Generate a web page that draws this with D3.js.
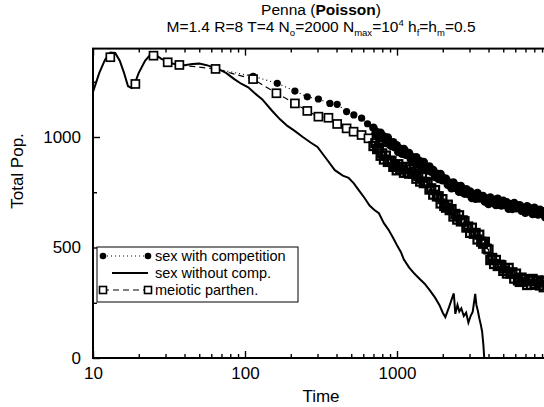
<!doctype html>
<html>
<head>
<meta charset="utf-8">
<title>Penna (Poisson)</title>
<script src="https://cdn.jsdelivr.net/npm/d3@7"></script>
<style>
    body { margin: 0; background: #fff; }
    svg { display: block; font-family: "Liberation Sans", Arial, sans-serif; }
</style>
</head>
<body>
<svg width="544" height="407"></svg>
<script>
// sex without competition (solid), also the common early curve
var solidT = [10, 11, 12, 13, 14, 15, 16, 17, 18, 19, 20, 22, 24, 26, 28, 31, 35, 40, 45, 50,
    56, 62, 68, 75, 85, 95, 105, 115, 130, 150, 170, 190, 210, 240, 270, 300, 340, 390, 440, 480,
    520, 560, 610, 660, 710, 760, 820, 880, 940, 1000, 1060, 1110, 1200, 1300, 1400, 1520, 1650, 1780, 1900, 2000,
    2080, 2200, 2300, 2364, 2420, 2500, 2570, 2650, 2750, 2850, 2950, 3050, 3150, 3270, 3330, 3400, 3480, 3560, 3630, 3700, 3750];
var solidV = [1204, 1290, 1350, 1382, 1380, 1345, 1290, 1230, 1222, 1250, 1290, 1345, 1375, 1370, 1355, 1340, 1328, 1325, 1330, 1332,
    1325, 1315, 1305, 1290, 1262, 1240, 1225, 1200, 1170, 1120, 1080, 1050, 1030, 1000, 975, 955, 905, 850, 825, 815,
    790, 760, 725, 690, 670, 655, 610, 580, 545, 510, 480, 445, 410, 382, 360, 336, 305, 273, 240, 205,
    185, 230, 270, 292, 200, 240, 210, 225, 190, 205, 160, 190, 210, 290, 240, 215, 180, 150, 120, 60, 0];

// late times, sampled densely for the two marker series
var bandT = [700, 720, 740, 760, 780, 800, 820, 845, 870, 895,
    920, 945, 970, 995, 1020, 1050, 1080, 1110, 1140, 1170,
    1200, 1235, 1270, 1305, 1340, 1380, 1420, 1460, 1500, 1545,
    1590, 1635, 1680, 1730, 1780, 1830, 1880, 1935, 1990, 2045,
    2100, 2160, 2220, 2285, 2350, 2420, 2490, 2560, 2630, 2705,
    2780, 2860, 2940, 3025, 3110, 3200, 3290, 3385, 3480, 3580,
    3680, 3785, 3890, 4000, 4110, 4230, 4350, 4475, 4600, 4730,
    4860, 5000, 5140, 5285, 5430, 5585, 5740, 5905, 6070, 6245,
    6420, 6605, 6790, 6985, 7180, 7385, 7590, 7805, 8020, 8250,
    8480, 8725, 8970, 9225, 9480, 9740, 10000];

// sex with competition (filled circles)
var compT = [64, 113, 163, 213, 257, 304, 362, 404, 466, 520, 585, 640].concat(bandT);
var compV = [1308, 1275, 1243, 1208, 1182, 1172, 1152, 1148, 1115, 1100, 1085, 1060,
    1042, 1013, 1021, 994, 1019, 994, 1002, 973, 997, 967,
    959, 976, 954, 963, 932, 947, 924, 946, 920, 928,
    927, 899, 908, 882, 908, 883, 890, 863, 887, 857,
    849, 866, 843, 851, 819, 834, 810, 832, 805, 812,
    811, 784, 793, 768, 794, 770, 778, 752, 778, 750,
    744, 763, 742, 753, 724, 742, 721, 746, 722, 732,
    733, 708, 720, 697, 726, 705, 716, 692, 720, 694,
    690, 711, 692, 704, 676, 695, 675, 701, 678, 689,
    691, 667, 679, 657, 686, 665, 676, 652, 680, 654,
    650, 671, 652, 664, 636, 655, 635];

// meiotic parthenogenesis (open squares)
var parthT = [13, 19, 25, 31, 37, 64, 113, 161, 213, 257, 304, 354, 404, 466, 518, 585, 649].concat(bandT);
var parthV = [1361, 1240, 1368, 1338, 1326, 1308, 1262, 1198, 1152, 1118, 1092, 1087, 1059, 1039, 1024, 1009, 994,
    959, 972, 945, 950, 915, 926, 898, 916, 887, 893,
    892, 865, 874, 849, 877, 854, 864, 838, 865, 838,
    834, 854, 834, 843, 811, 824, 798, 819, 791, 797,
    792, 762, 768, 739, 760, 731, 732, 699, 719, 688,
    680, 694, 669, 674, 640, 652, 626, 646, 618, 623,
    619, 590, 595, 566, 590, 562, 566, 536, 558, 526,
    517, 526, 495, 491, 443, 453, 425, 444, 416, 422,
    420, 394, 405, 382, 408, 382, 388, 359, 382, 351,
    344, 364, 345, 357, 330, 350, 331, 358, 336, 348,
    351, 328, 341, 320, 350, 330, 342];

var xMajor = [10, 100, 1000, 10000];
var xLabels = ["10", "100", "1000", ""];
var xMinor = [20, 30, 40, 50, 60, 70, 80, 90, 200, 300, 400, 500, 600, 700, 800, 900,
    2000, 3000, 4000, 5000, 6000, 7000, 8000, 9000];
var yMajor = [0, 500, 1000];
var yMinor = [250, 750, 1250];

var legendLabels = ["sex with competition", "sex without comp.", "meiotic parthen."];

var svg = d3.select("svg");
var plotLeft = 93, plotRight = 549, plotTop = 48.6, plotBottom = 358;

var x = d3.scaleLog().domain([10, 10000]).range([plotLeft, plotRight]);
var y = d3.scaleLinear().domain([0, 1400]).range([plotBottom, plotTop]);

function zip(ts, vs) {
    return ts.map(function (t, i) { return { t: t, v: vs[i] }; });
}
var solid = zip(solidT, solidV),
    comp = zip(compT, compV),
    parth = zip(parthT, parthV);

function styleAxis(g) {
    g.select(".domain").remove();
    g.selectAll(".tick line").attr("stroke-width", 1.4);
    g.attr("font-size", 17).attr("font-family", null);
}

// axes, ticks pointing inward
svg.append("g").attr("transform", "translate(0," + plotBottom + ")")
    .call(d3.axisBottom(x).tickValues(xMajor)
        .tickFormat(function (d, i) { return xLabels[i]; }).tickSize(-7).tickPadding(9))
    .call(styleAxis);
svg.append("g").attr("transform", "translate(0," + plotBottom + ")")
    .call(d3.axisBottom(x).tickValues(xMinor).tickFormat("").tickSize(-4))
    .call(styleAxis);
svg.append("g").attr("transform", "translate(0," + plotTop + ")")
    .call(d3.axisTop(x).tickValues(xMajor).tickFormat("").tickSize(-7))
    .call(styleAxis);
svg.append("g").attr("transform", "translate(0," + plotTop + ")")
    .call(d3.axisTop(x).tickValues(xMinor).tickFormat("").tickSize(-4))
    .call(styleAxis);
svg.append("g").attr("transform", "translate(" + plotLeft + ",0)")
    .call(d3.axisLeft(y).tickValues(yMajor).tickFormat(d3.format("d")).tickSize(-7).tickPadding(12))
    .call(styleAxis);
svg.append("g").attr("transform", "translate(" + plotLeft + ",0)")
    .call(d3.axisLeft(y).tickValues(yMinor).tickFormat("").tickSize(-4))
    .call(styleAxis);

svg.append("rect")
    .attr("x", plotLeft).attr("y", plotTop)
    .attr("width", plotRight - plotLeft).attr("height", plotBottom - plotTop)
    .attr("fill", "none").attr("stroke", "#000").attr("stroke-width", 2);

var line = d3.line().x(function (d) { return x(d.t); }).y(function (d) { return y(d.v); });

svg.append("path").datum(solid)
    .attr("d", line).attr("fill", "none").attr("stroke", "#000").attr("stroke-width", 2);

svg.append("path").datum(comp)
    .attr("d", line).attr("fill", "none").attr("stroke", "#000")
    .attr("stroke-width", 1.2).attr("stroke-dasharray", "1,3");

svg.append("path").datum(parth.filter(function (d) { return d.t >= 37; }))
    .attr("d", line).attr("fill", "none").attr("stroke", "#000")
    .attr("stroke-width", 1.2).attr("stroke-dasharray", "6,4");

svg.append("g").selectAll("circle")
    .data(comp.filter(function (d) { return d.t >= 100; }))
    .enter().append("circle")
    .attr("cx", function (d) { return x(d.t); })
    .attr("cy", function (d) { return y(d.v); })
    .attr("r", function (d) { return d.t < 700 ? 3.6 : 4.3; })
    .attr("fill", "#000");

svg.append("g").selectAll("rect")
    .data(parth)
    .enter().append("rect")
    .attr("x", function (d) { return x(d.t) - 4; })
    .attr("y", function (d) { return y(d.v) - 4; })
    .attr("width", 8).attr("height", 8)
    .attr("fill", function (d) { return d.t < 700 ? "#fff" : "none"; })
    .attr("stroke", "#000").attr("stroke-width", function (d) { return d.t < 700 ? 1.7 : 2.2; });

// legend
var lg = svg.append("g");
lg.append("rect").attr("x", 97).attr("y", 247).attr("width", 201).attr("height", 55)
    .attr("fill", "#fff").attr("stroke", "#000").attr("stroke-width", 1);
var rows = [256, 273, 290];
lg.append("line").attr("x1", 103).attr("x2", 148).attr("y1", rows[0]).attr("y2", rows[0])
    .attr("stroke", "#000").attr("stroke-width", 1.2).attr("stroke-dasharray", "1,3");
[103, 148].forEach(function (cx) {
    lg.append("circle").attr("cx", cx).attr("cy", rows[0]).attr("r", 3.3).attr("fill", "#000");
});
lg.append("line").attr("x1", 112).attr("x2", 148).attr("y1", rows[1]).attr("y2", rows[1])
    .attr("stroke", "#000").attr("stroke-width", 2);
lg.append("line").attr("x1", 103).attr("x2", 148).attr("y1", rows[2]).attr("y2", rows[2])
    .attr("stroke", "#000").attr("stroke-width", 1.2).attr("stroke-dasharray", "6,4");
[103, 148].forEach(function (cx) {
    lg.append("rect").attr("x", cx - 3.5).attr("y", rows[2] - 3.5).attr("width", 7).attr("height", 7)
        .attr("fill", "#fff").attr("stroke", "#000").attr("stroke-width", 1.6);
});
lg.selectAll("text").data(legendLabels).enter().append("text")
    .attr("x", 155).attr("y", function (d, i) { return rows[i] + 5; })
    .attr("font-size", 14.5).text(function (d) { return d; });

// axis titles
svg.append("text").attr("x", 321).attr("y", 402).attr("text-anchor", "middle")
    .attr("font-size", 17).text("Time");
svg.append("text").attr("transform", "translate(23,171) rotate(-90)").attr("text-anchor", "middle")
    .attr("font-size", 17).text("Total Pop.");

// title
var t1 = svg.append("text").attr("x", 321).attr("y", 15).attr("text-anchor", "middle").attr("font-size", 15.5);
t1.append("tspan").text("Penna (");
t1.append("tspan").attr("font-weight", "bold").text("Poisson");
t1.append("tspan").text(")");

var t2 = svg.append("text").attr("x", 321).attr("y", 32).attr("text-anchor", "middle").attr("font-size", 15.5);
var parts = [["M=1.4 R=8 T=4 N", 0], ["o", 1], ["=2000 N", 0], ["max", 1], ["=10", 0], ["4", 2],
    [" h", 0], ["f", 1], ["=h", 0], ["m", 1], ["=0.5", 0]];
var shift = 0;
parts.forEach(function (p) {
    var target = p[1] === 1 ? 4 : p[1] === 2 ? -6 : 0;
    t2.append("tspan").attr("dy", target - shift)
        .attr("font-size", p[1] ? 9.5 : null).text(p[0]);
    shift = target;
});
</script>
</body>
</html>
